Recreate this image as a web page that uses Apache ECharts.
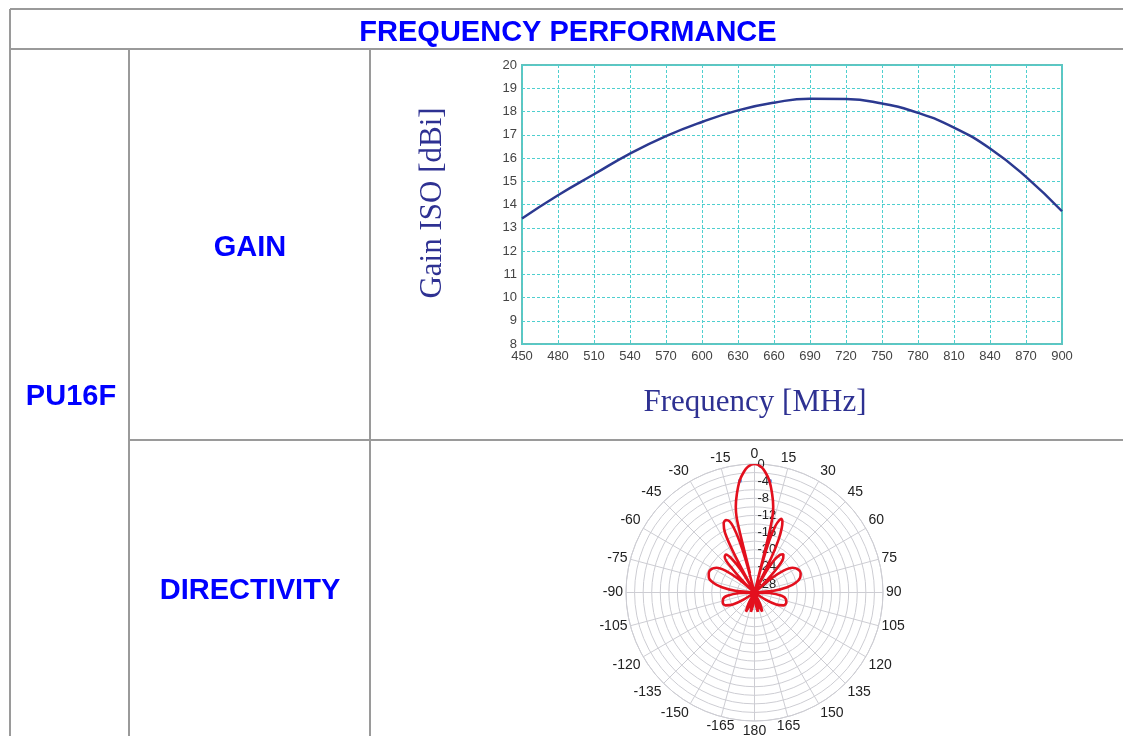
<!DOCTYPE html>
<html>
<head>
<meta charset="utf-8">
<title>PU16F frequency performance</title>
<script src="https://cdn.jsdelivr.net/npm/echarts@6/dist/echarts.min.js"></script>
<style>
  html, body { margin: 0; padding: 0; background: #fff; }
  #chart { width: 1123px; height: 736px; }
</style>
</head>
<body>
<div id="chart"></div>
<script>
// gain curve
const freqMHz = [450, 480, 510, 540, 570, 600, 630, 660, 690, 720, 750, 780, 810, 840, 870, 900];
const gainDbi = [13.40, 14.40, 15.30, 16.19, 16.94, 17.55, 18.05, 18.38, 18.55, 18.54, 18.34, 17.94, 17.31, 16.41, 15.19, 13.71];

// radiation pattern (deg, dB), traced clockwise from the left null of the main lobe
const patternAngle = [
  -13.3, -13.7, -13.4, -12.3, -10.2, -7.5, -5.0, -3.0, 0, 3.0, 5.0, 7.5, 10.2, 12.3, 13.4, 13.9, 14.3,
  15.0, 16.0, 17.5, 19.0, 20.0, 21.5, 23.0, 24.5, 25.8, 27.0,
  29.0, 31.0, 34.0, 37.0, 40.0, 43.0, 46.0, 48.0,
  50.0, 53.0, 57.0, 62.0, 67.0, 72.0, 77.0, 81.0, 85.0, 88.0,
  92.0, 97.0, 102.0, 108.0, 114.0, 119.0, 123.0, 126.0,
  150.0, 154.0, 158.0, 162.0, 165.0, 168.0, 170.5, 173.0, 176.0, 180.0,
  -176.0, -173.0, -169.7, -167.0, -164.0, -160.0, -156.0, -152.0, -148.0,
  -126.0, -123.0, -119.0, -114.0, -108.5, -102.0, -97.0, -92.0, -88.0,
  -85.0, -81.0, -77.0, -72.0, -67.0, -62.0, -57.0, -53.0, -50.0, -48.0,
  -46.0, -43.0, -40.0, -37.0, -34.0, -31.0, -29.0,
  -27.8, -26.3, -24.0, -21.5, -19.3, -17.8, -16.3, -15.2, -14.4
];
const patternDb = [
  -25.4, -16.0, -12.0, -9.5, -6.7, -3.6, -1.7, -0.6, 0, -0.6, -1.7, -3.6, -6.7, -9.5, -12.0, -16.0, -30,
  -22.0, -17.0, -13.6, -12.1, -11.7, -12.2, -13.8, -16.5, -21.0, -30,
  -25.0, -21.5, -19.4, -18.8, -19.6, -22.5, -27.0, -30,
  -25.0, -21.5, -19.4, -18.5, -18.3, -18.8, -20.2, -22.3, -25.5, -30,
  -26.5, -23.6, -22.5, -22.2, -22.6, -24.2, -26.8, -30,
  -30, -27.0, -25.2, -27.0, -30, -27.0, -25.4, -27.0, -30, -30,
  -30, -27.0, -25.4, -27.0, -30, -27.0, -25.1, -27.0, -30,
  -30, -26.8, -24.2, -22.6, -22.2, -22.5, -23.6, -26.5, -30,
  -25.5, -22.3, -20.2, -18.8, -18.4, -18.5, -19.4, -21.5, -25.0, -30,
  -27.0, -22.5, -19.2, -18.9, -20.5, -24.0, -30,
  -20.0, -14.5, -12.3, -11.8, -12.4, -14.0, -17.5, -22.0, -30
];

// -3 dB markers
const markerAngle = [-7.4, 7.9];
const markerDb = [-3.7, -3.7];

const toAxisAngle = (a) => (a + 360) % 360;

const chart = echarts.init(document.getElementById("chart"));

const border = "#9a9a9a";
const blue = "#0000ff";
const navy = "#2e3192";

const hLine = (x1, x2, y) => ({ type: "line", shape: { x1, y1: y, x2, y2: y }, style: { stroke: border, lineWidth: 2 }, silent: true });
const vLine = (x, y1, y2) => ({ type: "line", shape: { x1: x, y1, x2: x, y2 }, style: { stroke: border, lineWidth: 2 }, silent: true });
const label = (text, x, y, font, color, rotation) => ({
  type: "text",
  x, y,
  rotation: rotation || 0,
  silent: true,
  style: { text, font, fill: color, align: "center", verticalAlign: "middle" }
});

chart.setOption({
  animation: false,
  textStyle: { fontFamily: "Liberation Sans, Arial, sans-serif" },
  graphic: [
    // table rules
    hLine(10, 1123, 9),
    hLine(10, 1123, 49),
    hLine(129, 1123, 440),
    vLine(10, 9, 736),
    vLine(129, 49, 736),
    vLine(370, 49, 736),
    label("FREQUENCY PERFORMANCE", 568, 33, 'bold 29px "Liberation Sans"', blue),
    label("PU16F", 71, 397, 'bold 29px "Liberation Sans"', blue),
    label("GAIN", 250, 248, 'bold 29px "Liberation Sans"', blue),
    label("DIRECTIVITY", 250, 591, 'bold 29px "Liberation Sans"', blue),
    label("Gain ISO [dBi]", 433, 203, '31px "Liberation Serif"', navy, Math.PI / 2),
    label("Frequency [MHz]", 755, 403, '31px "Liberation Serif"', navy)
  ],
  grid: {
    left: 522, top: 65, width: 540, height: 279,
    show: true, borderColor: "#62c3be", borderWidth: 2
  },
  xAxis: {
    type: "value", min: 450, max: 900, interval: 30,
    axisLine: { show: false }, axisTick: { show: false },
    axisLabel: { color: "#444", fontSize: 13, margin: 6 },
    splitLine: { lineStyle: { color: "#4fcfcf", type: [3, 2], width: 1 } }
  },
  yAxis: {
    type: "value", min: 8, max: 20, interval: 1,
    axisLine: { show: false }, axisTick: { show: false },
    axisLabel: { color: "#444", fontSize: 13, margin: 5 },
    splitLine: { lineStyle: { color: "#4fcfcf", type: [3, 2], width: 1 } }
  },
  polar: { center: [754.5, 592.5], radius: 128.5 },
  angleAxis: {
    type: "value", min: 0, max: 360, interval: 15, startAngle: 90, clockwise: true,
    axisLine: { lineStyle: { color: "#cdcdd3", width: 1 } },
    axisTick: { show: false },
    axisLabel: {
      color: "#222", fontSize: 14, margin: 3,
      formatter: (v) => (v >= 360 ? "" : String(v > 180 ? v - 360 : v))
    },
    splitLine: { lineStyle: { color: "#cdcdd3", width: 1 } }
  },
  radiusAxis: {
    type: "value", min: -30, max: 0, interval: 2,
    axisLine: { show: false }, axisTick: { show: false },
    axisLabel: {
      color: "#222", fontSize: 13, margin: -3, align: "left",
      formatter: (v) => (v % 4 === 0 ? String(v) : "")
    },
    splitLine: { lineStyle: { color: "#cdcdd3", width: 1 } }
  },
  series: [
    {
      type: "line",
      xAxisIndex: 0, yAxisIndex: 0,
      data: freqMHz.map((f, i) => [f, gainDbi[i]]),
      smooth: true, showSymbol: false,
      lineStyle: { color: "#2b3990", width: 2.5 }
    },
    {
      type: "line",
      coordinateSystem: "polar",
      data: patternAngle.map((a, i) => [patternDb[i], toAxisAngle(a)]),
      smooth: 0.3, showSymbol: false,
      lineStyle: { color: "#e3101e", width: 2.6 }
    },
    {
      type: "scatter",
      coordinateSystem: "polar",
      data: markerAngle.map((a, i) => [markerDb[i], toAxisAngle(a)]),
      symbolSize: 4,
      itemStyle: { color: "#2a73d6" }
    }
  ]
});
</script>
</body>
</html>
